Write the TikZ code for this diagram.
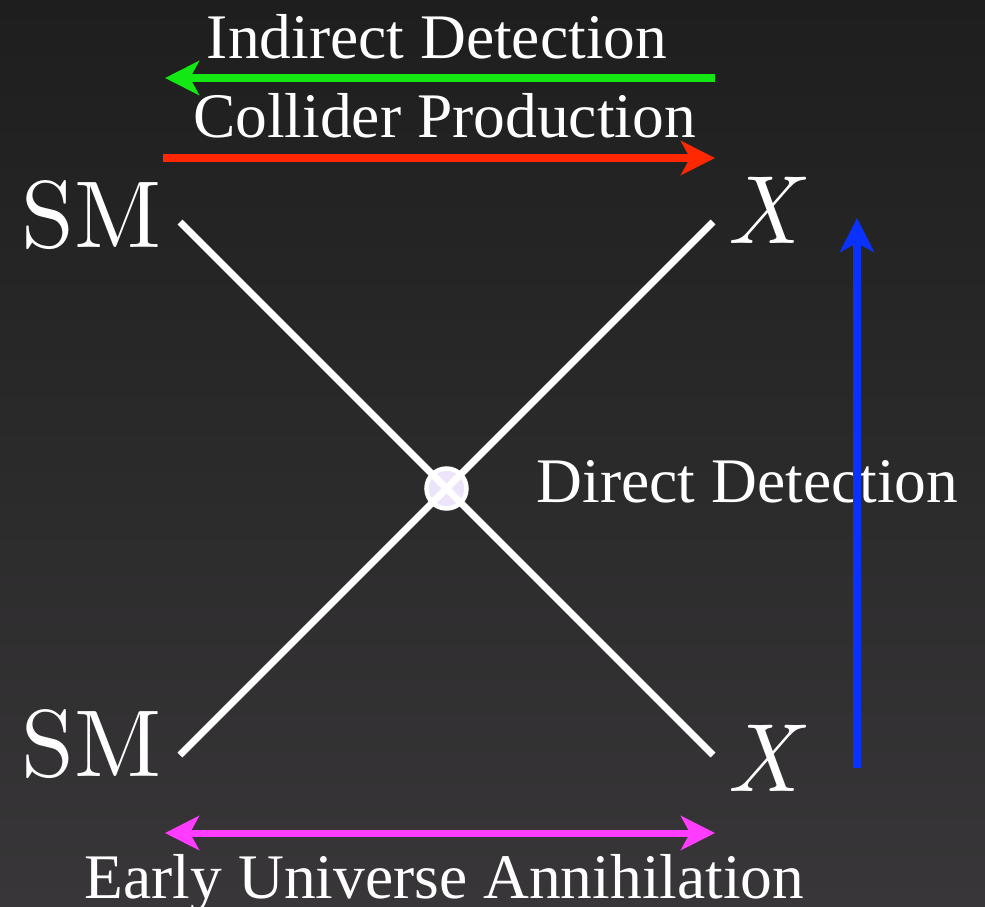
\documentclass[tikz,border=0pt]{standalone}
\usepackage{fontspec}
\newfontfamily\labelfont{Liberation Serif}
\newfontfamily\smfont{lmroman10-regular.otf}
\newfontfamily\xfont{lmroman10-italic.otf}
\usetikzlibrary{arrows.meta}
\definecolor{bgtop}{RGB}{30,30,30}
\definecolor{bgbot}{RGB}{56,54,56}
\definecolor{cgreen}{RGB}{20,232,20}
\definecolor{cred}{RGB}{255,40,0}
\definecolor{cblue}{RGB}{10,50,255}
\definecolor{cmag}{RGB}{255,60,255}
\definecolor{cvert}{RGB}{236,228,250}
\tikzset{
  lbl/.style={inner sep=0pt, anchor=base, text=white, font=\labelfont\fontsize{63.5}{70}\selectfont},
  smlbl/.style={inner sep=0pt, anchor=base west, text=white, font=\smfont\fontsize{95}{100}\selectfont},
  xlbl/.style={inner sep=0pt, anchor=base west, text=white, font=\xfont\fontsize{97}{105}\selectfont},
  leg/.style={draw=white, line width=7pt},
  arr/.style={line width=8pt, -{Stealth[length=34pt, width=34pt, inset=9pt]}},
  dblarr/.style={line width=7pt, {Stealth[length=34pt, width=34pt, inset=9pt]}-{Stealth[length=34pt, width=34pt, inset=9pt]}},
  vert/.style={circle, draw=white, fill=cvert, line width=4.5pt, minimum size=40pt, inner sep=0pt}
}
\begin{document}
\begin{tikzpicture}[x=1pt, y=-1pt]
\shade[top color=bgtop, bottom color=bgbot] (0,0) rectangle (985,906);
\useasboundingbox (0,0) rectangle (985,906);
% labels
\node[lbl] (ind) at (437,58) {Indirect Detection};
\node[lbl] (col) at (444.5,137) {Collider Production};
\node[lbl] (dir) at (747.5,502) {Direct Detection};
\node[lbl] (ear) at (444.5,898) {Early Universe Annihilation};
\node[smlbl] (sm1) at (21,247) {SM};
\node[smlbl] (sm2) at (21,776) {SM};
\node[xlbl] (x1) at (726,243) {X};
\node[xlbl] (x2) at (726,791) {X};
% vertex
\node[vert] (v) at (446.5,488.5) {};
\coordinate (tl) at (180,222);
\coordinate (br) at (713,755);
\coordinate (bl) at (180,755);
\coordinate (tr) at (713,222);
\draw[leg] (tl) -- (br);
\draw[leg] (bl) -- (tr);
% arrows
\coordinate (g1) at (715,78);
\coordinate (g2) at (165,78);
\coordinate (r1) at (163,158);
\coordinate (r2) at (715,158);
\coordinate (b1) at (857,768);
\coordinate (b2) at (857,218);
\coordinate (m1) at (165,833);
\coordinate (m2) at (715,833);
\draw[arr, cgreen] (g1) -- (g2);
\draw[arr, cred] (r1) -- (r2);
\draw[arr, cblue] (b1) -- (b2);
\draw[dblarr, cmag] (m1) -- (m2);
\end{tikzpicture}
\end{document}
